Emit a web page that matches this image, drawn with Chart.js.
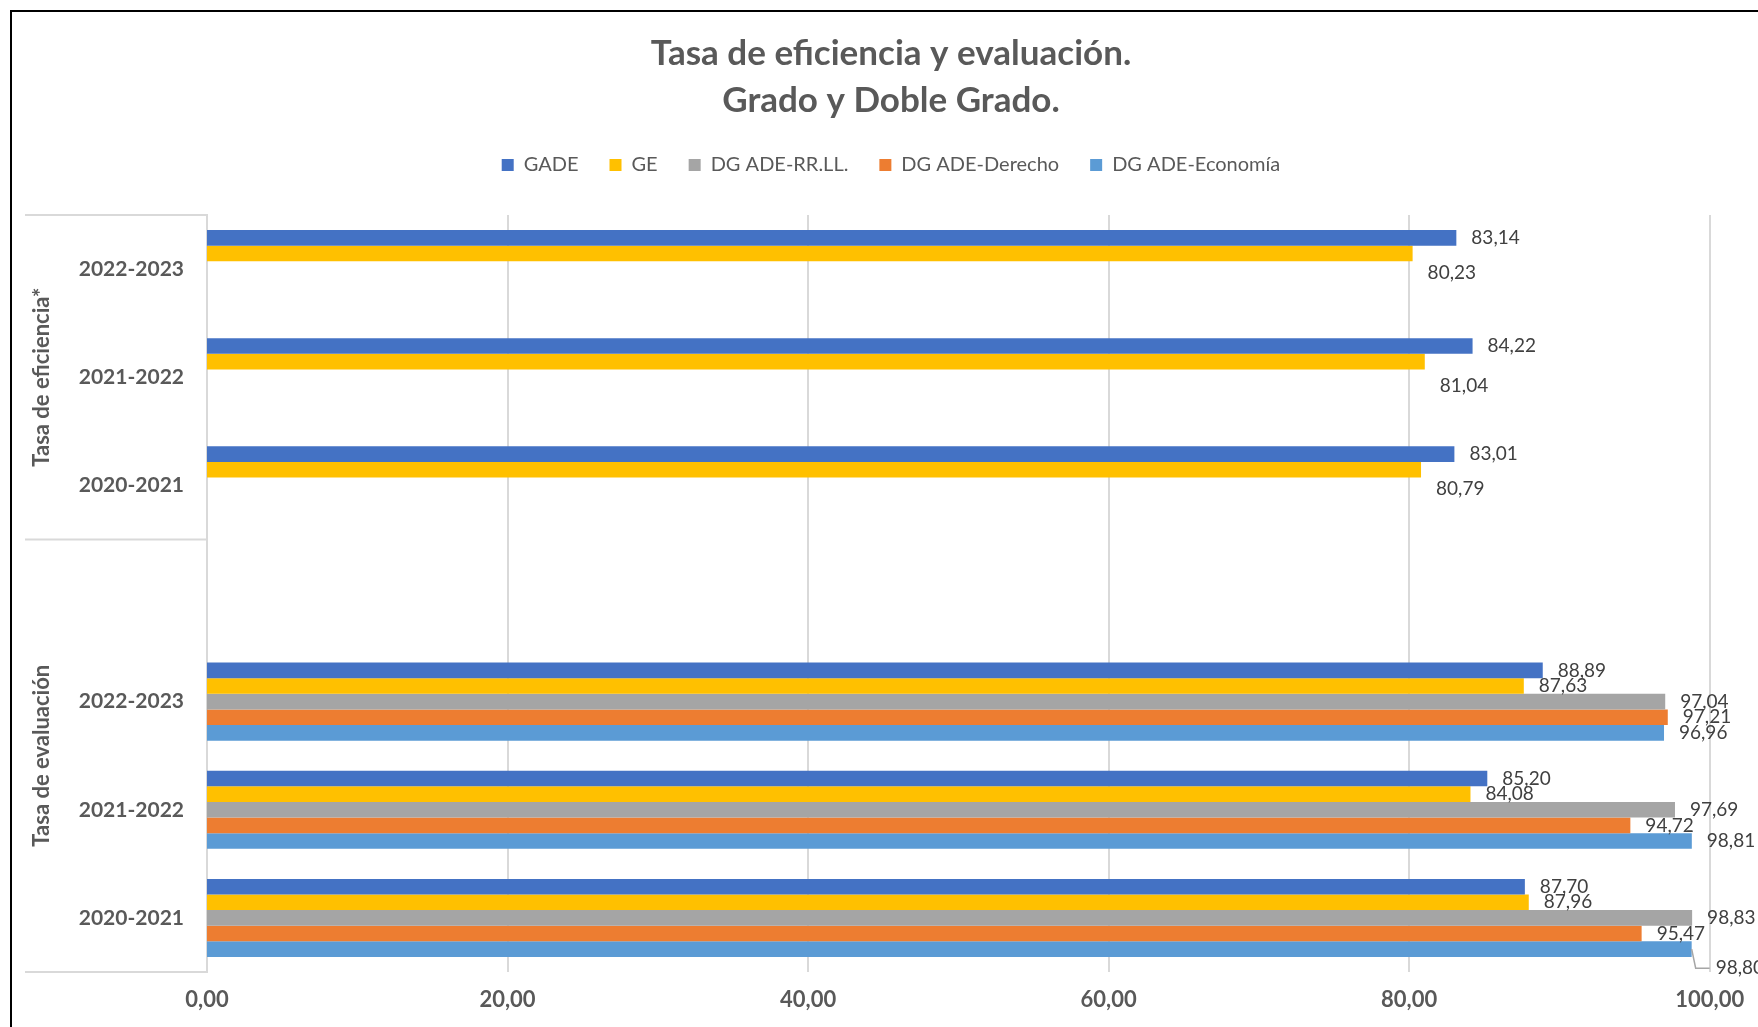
<!DOCTYPE html>
<html>
<head>
<meta charset="utf-8">
<title>Tasa de eficiencia y evaluación</title>
<script src="https://cdn.jsdelivr.net/npm/chart.js@4.4.1/dist/chart.umd.min.js"></script>
<style>
  html, body { margin: 0; padding: 0; background: #fff; overflow: hidden; }
  #frame { position: absolute; left: 10px; top: 10px; width: 1758px; height: 1060px; border: 2px solid #000; background: #fff; }
  #chart { display: block; }
</style>
</head>
<body>
<div id="frame"><canvas id="chart" width="1758" height="1060"></canvas></div>
<script>
/* ---------------------------------------------------------
   Data
--------------------------------------------------------- */
const categories = ["2022-2023", "2021-2022", "2020-2021", "", "2022-2023", "2021-2022", "2020-2021"];
const groupLabels = ["Tasa de eficiencia*", "Tasa de evaluación"];
const groupStarts = [0, 3];   // first category index of each group

const seriesNames = ["GADE", "GE", "DG ADE-RR.LL.", "DG ADE-Derecho", "DG ADE-Economía"];
const gade       = [83.14, 84.22, 83.01, null, 88.89, 85.20, 87.70];
const ge         = [80.23, 81.04, 80.79, null, 87.63, 84.08, 87.96];
const dgRrll     = [null, null, null, null, 97.04, 97.69, 98.83];
const dgDerecho  = [null, null, null, null, 97.21, 94.72, 95.47];
const dgEconomia = [null, null, null, null, 96.96, 98.81, 98.80];

const xTicks = [0, 20, 40, 60, 80, 100];

/* ---------------------------------------------------------
   Styles
--------------------------------------------------------- */
const FONT = "Lato, 'Open Sans', sans-serif";
const inkGrey = "#595959";
const labelInk = "#404040";
const gridColor = "#d9d9d9";
const seriesColors = ["#4472c4", "#ffc000", "#a5a5a5", "#ed7d31", "#5b9bd5"];
const fmt = (v) => v.toFixed(2).replace(".", ",");

/* ---------------------------------------------------------
   Plugins: grouped category axis + data labels
--------------------------------------------------------- */
const groupAxis = {
  id: "groupAxis",
  afterDraw(chart) {
    const { ctx, chartArea } = chart;
    const y = chart.scales.y;
    const half = (y.getPixelForValue(1) - y.getPixelForValue(0)) / 2;
    const edges = groupStarts.map((i) => y.getPixelForValue(i) - half);
    edges.push(y.getPixelForValue(categories.length - 1) + half);

    ctx.save();
    ctx.strokeStyle = gridColor;
    ctx.lineWidth = 2;
    edges.forEach((py) => {
      ctx.beginPath();
      ctx.moveTo(13, py);
      ctx.lineTo(chartArea.left, py);
      ctx.stroke();
    });

    ctx.fillStyle = inkGrey;
    ctx.font = `bold 22px ${FONT}`;
    ctx.textAlign = "center";
    ctx.textBaseline = "middle";
    groupLabels.forEach((label, i) => {
      const mid = (edges[i] + edges[i + 1]) / 2;
      ctx.save();
      ctx.translate(29.5, mid);
      ctx.rotate(-Math.PI / 2);
      ctx.fillText(label, 0, 0);
      ctx.restore();
    });
    ctx.restore();
  },
};

const barLabels = {
  id: "barLabels",
  afterDatasetsDraw(chart, args, opts) {
    const { ctx } = chart;
    ctx.save();
    ctx.font = `19px ${FONT}`;
    ctx.fillStyle = labelInk;
    ctx.textAlign = "left";
    ctx.textBaseline = "middle";
    chart.data.datasets.forEach((ds, di) => {
      const meta = chart.getDatasetMeta(di);
      meta.data.forEach((bar, i) => {
        const v = ds.data[i];
        if (v === null) return;
        const nudge = opts.nudges[`${di}-${i}`] || { dx: 0, dy: 0 };
        const lx = bar.x + 15 + nudge.dx;
        const ly = bar.y + nudge.dy;
        if (nudge.leader) {
          ctx.save();
          ctx.strokeStyle = "#a6a6a6";
          ctx.lineWidth = 1.5;
          ctx.beginPath();
          ctx.moveTo(bar.x, bar.y);
          ctx.lineTo(bar.x + 4, ly);
          ctx.lineTo(lx - 6, ly);
          ctx.stroke();
          ctx.restore();
        }
        ctx.fillText(fmt(v), lx, ly);
      });
    });
    ctx.restore();
  },
};

/* ---------------------------------------------------------
   Chart
--------------------------------------------------------- */
const seriesData = [gade, ge, dgRrll, dgDerecho, dgEconomia];

new Chart(document.getElementById("chart"), {
  type: "bar",
  data: {
    labels: categories,
    datasets: seriesNames.map((name, i) => ({
      label: name,
      data: seriesData[i],
      backgroundColor: seriesColors[i],
      borderWidth: 0,
      categoryPercentage: 0.722,
      barPercentage: 1,
    })),
  },
  options: {
    indexAxis: "y",
    responsive: false,
    animation: false,
    // equal side padding keeps title + legend centred on the frame
    layout: { padding: { left: 60.3, right: 60.3, top: 0, bottom: 0 } },
    plugins: {
      title: {
        display: true,
        text: ["Tasa de eficiencia y evaluación.", "Grado y Doble Grado."],
        color: inkGrey,
        font: { family: FONT, size: 35, weight: "bold", lineHeight: 47 / 35 },
        padding: { top: 18, bottom: 0 },
      },
      legend: {
        position: "top",
        labels: {
          color: inkGrey,
          font: { family: FONT, size: 20 },
          boxWidth: 12,
          boxHeight: 12,
          padding: 31,
        },
      },
      tooltip: { enabled: false },
      barLabels: {
        nudges: {
          "1-0": { dx: 0, dy: 19 },
          "1-1": { dx: 0, dy: 24 },
          "1-2": { dx: 0, dy: 19 },
          "4-6": { dx: 9, dy: 19, leader: true },
        },
      },
    },
    scales: {
      spacer: {
        axis: "x",
        type: "linear",
        position: "top",
        display: true,
        grid: { display: false },
        border: { display: false },
        ticks: { display: false },
        afterFit: (s) => { s.height = 30; },
      },
      x: {
        type: "linear",
        position: "bottom",
        min: 0,
        max: 100,
        afterBuildTicks: (s) => { s.ticks = xTicks.map((v) => ({ value: v })); },
        afterFit: (s) => { s.height = 100; },
        grid: { color: gridColor, lineWidth: 2, drawTicks: false },
        border: { display: false },
        ticks: {
          color: inkGrey,
          font: { family: FONT, size: 22, weight: "bold" },
          padding: 15,
          callback: (v) => fmt(v),
        },
      },
      y: {
        type: "category",
        afterFit: (s) => { s.width = 134.7; },
        grid: { display: false, drawTicks: false },
        border: { display: true, color: gridColor, width: 2 },
        ticks: {
          color: inkGrey,
          font: { family: FONT, size: 21, weight: "bold" },
          padding: 23,
        },
      },
    },
  },
  plugins: [groupAxis, barLabels],
});
</script>
</body>
</html>
